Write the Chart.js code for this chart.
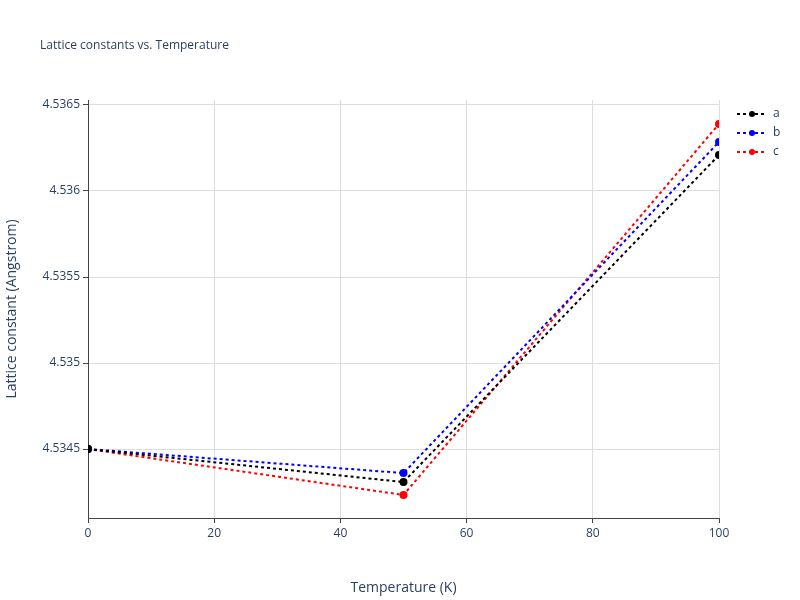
<!DOCTYPE html>
<html>
<head>
<script src="https://cdn.jsdelivr.net/npm/chart.js@4"></script>
<style>
  body { margin: 0; background: #fff; }
</style>
</head>
<body>
<canvas id="chart" width="800" height="600"></canvas>
<script>
const temps = [0, 50, 100];
const aVals = [4.5345, 4.534308, 4.536209];
const bVals = [4.5345, 4.534360, 4.536285];
const cVals = [4.5345, 4.534233, 4.536390];
const yTicks = [4.5345, 4.535, 4.5355, 4.536, 4.5365];

function series(label, vals, color) {
  return {
    label: label,
    data: temps.map((t, i) => ({ x: t, y: vals[i] })),
    borderColor: color,
    backgroundColor: color,
    borderWidth: 2,
    borderDash: [3, 3],
    pointRadius: 3,
    pointHoverRadius: 4
  };
}

// title and legend drawn by hand, plotly style
const decor = {
  id: 'decor',
  afterDraw(chart) {
    const c = chart.ctx;
    c.save();
    c.fillStyle = '#2a3f5f';
    c.font = '12px "Open Sans"';
    c.textBaseline = 'middle';
    c.fillText('Lattice constants vs. Temperature', 40, 46);
    chart.data.datasets.forEach((ds, i) => {
      const y = 114 + i * 19;
      c.strokeStyle = ds.borderColor;
      c.lineWidth = 2;
      c.setLineDash([3, 3]);
      c.beginPath(); c.moveTo(737, y); c.lineTo(767, y); c.stroke();
      c.setLineDash([]);
      c.fillStyle = ds.borderColor;
      c.beginPath(); c.arc(752, y, 3, 0, Math.PI * 2); c.fill();
      c.fillStyle = '#2a3f5f';
      c.fillText(ds.label, 773, y);
    });
    c.restore();
  }
};

const ctx = document.getElementById('chart').getContext('2d');
const chart = new Chart(ctx, {
  type: 'line',
  data: {
    datasets: [
      series('a', aVals, '#000000'),
      series('b', bVals, '#0000ff'),
      series('c', cVals, '#ff0000')
    ]
  },
  plugins: [decor],
  options: {
    responsive: false,
    animation: false,
    layout: { padding: { left: 0, right: 81, top: 100, bottom: 0 } },
    plugins: {
      legend: { display: false },
      tooltip: { enabled: false }
    },
    scales: {
      x: {
        type: 'linear',
        min: 0,
        max: 100,
        afterFit: axis => { axis.height = 82; },
        ticks: { stepSize: 20, color: '#2a3f5f', font: { family: 'Open Sans', size: 12 } },
        grid: { color: '#dddddd', tickColor: '#444', tickLength: 5 },
        border: { color: '#444' },
        title: {
          display: true,
          text: 'Temperature (K)',
          color: '#2a3f5f',
          font: { family: 'Open Sans', size: 14 },
          padding: { top: 8 }
        }
      },
      y: {
        type: 'linear',
        min: 4.534099,
        max: 4.536529,
        afterFit: axis => { axis.width = 88; },
        afterBuildTicks: axis => { axis.ticks = yTicks.map(v => ({ value: v })); },
        ticks: {
          color: '#2a3f5f',
          font: { family: 'Open Sans', size: 12 },
          callback: v => String(parseFloat(v.toFixed(4)))
        },
        grid: { color: '#dddddd', tickColor: '#444', tickLength: 5 },
        border: { color: '#444' },
        title: {
          display: true,
          text: 'Lattice constant (Angstrom)',
          color: '#2a3f5f',
          font: { family: 'Open Sans', size: 14 }
        }
      }
    }
  }
});
</script>
</body>
</html>
